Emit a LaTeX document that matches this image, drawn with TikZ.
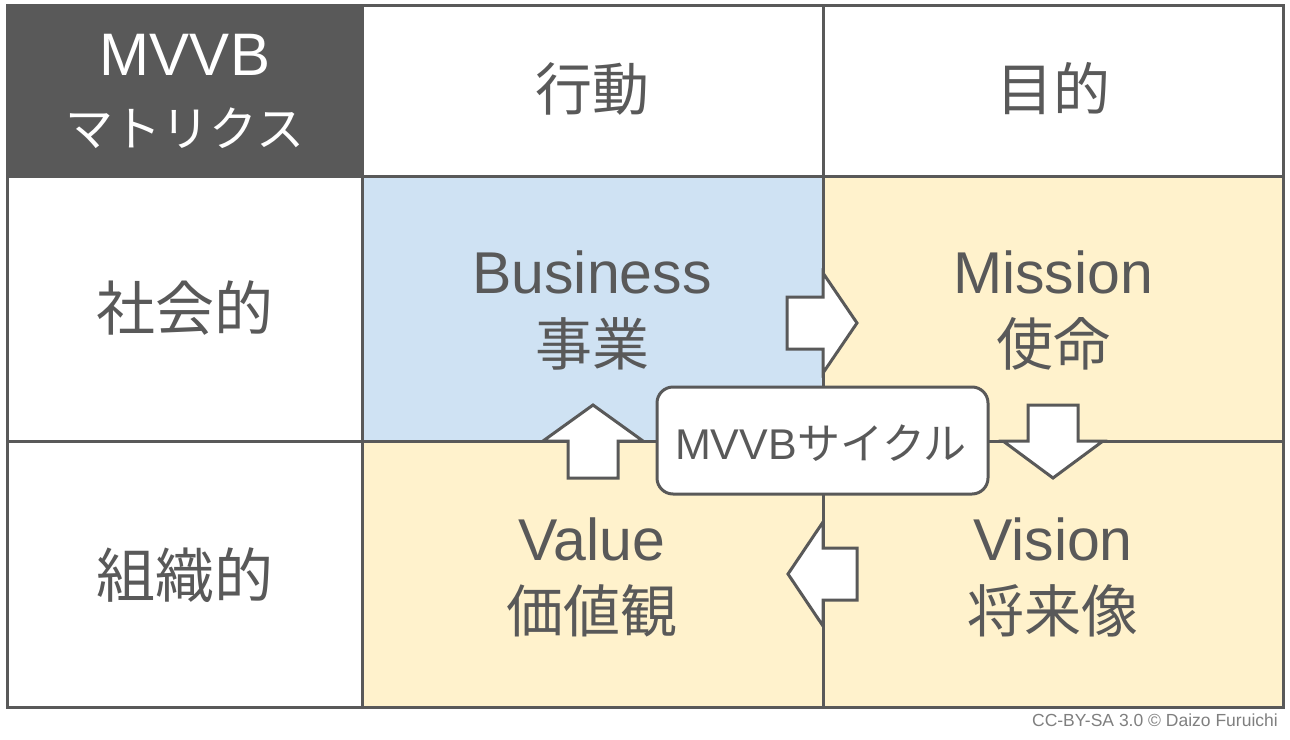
\documentclass[tikz,border=0pt]{standalone}
\usepackage{fontspec}
\setmainfont{Liberation Sans}
\newfontfamily\jp{Noto Sans CJK JP}
\definecolor{lineg}{HTML}{595959}
\definecolor{darkc}{HTML}{595959}
\definecolor{bluec}{HTML}{CFE2F3}
\definecolor{yelc}{HTML}{FFF2CC}
\definecolor{credc}{HTML}{7F7F7F}
\begin{document}
\begin{tikzpicture}[x=1pt,y=-1pt,
  cell/.style={draw=lineg,line width=3pt},
  lat/.style={text=lineg,font=\fontsize{59}{60}\selectfont,inner sep=0pt,anchor=base},
  jpt/.style={text=lineg,font=\jp\fontsize{57}{60}\selectfont,inner sep=0pt},
  blockarrow/.style={draw=lineg,fill=white,line width=3pt,line join=miter},
  cyclebox/.style={draw=lineg,fill=white,line width=3pt,rounded corners=16pt}]
\useasboundingbox (0,0) rectangle (1290,739);
% cells
\path[cell,fill=darkc] (7,5) rectangle (362,176);
\path[cell,fill=white] (362,5) rectangle (823,176);
\path[cell,fill=white] (823,5) rectangle (1283,176);
\path[cell,fill=white] (7,176) rectangle (362,441);
\path[cell,fill=bluec] (362,176) rectangle (823,441);
\path[cell,fill=yelc] (823,176) rectangle (1283,441);
\path[cell,fill=white] (7,441) rectangle (362,707);
\path[cell,fill=yelc] (362,441) rectangle (823,707);
\path[cell,fill=yelc] (823,441) rectangle (1283,707);
% header texts
\node[lat,text=white,font=\fontsize{60}{60}\selectfont] (mvvb) at (185,75) {MVVB};
\node[jpt,text=white,font=\jp\fontsize{48}{50}\selectfont] (matrix) at (185,128) {マトリクス};
\node[jpt] (kodo) at (592,89) {行動};
\node[jpt] (mokuteki) at (1053,89) {目的};
\node[jpt,font=\jp\fontsize{59}{60}\selectfont] (shakai) at (185,308) {社会的};
\node[jpt,font=\jp\fontsize{59}{60}\selectfont] (soshiki) at (185,575) {組織的};
% cell texts
\node[lat] (bus) at (592,293) {Business};
\node[jpt] (jigyo) at (592,344) {事業};
\node[lat] (mis) at (1053,293) {Mission};
\node[jpt] (shimei) at (1053,344) {使命};
\node[lat] (val) at (592,560) {Value};
\node[jpt] (kachi) at (592,611) {価値観};
\node[lat] (vis) at (1053,560) {Vision};
\node[jpt] (shorai) at (1053,611) {将来像};
% arrows
\path[blockarrow] (787,297) -- (823,297) -- (823,273) -- (857,323) -- (823,373) -- (823,349) -- (787,349) -- cycle;
\path[blockarrow] (1028,405) -- (1078,405) -- (1078,441) -- (1103,441) -- (1053,478) -- (1003,441) -- (1028,441) -- cycle;
\path[blockarrow] (568,478) -- (618,478) -- (618,441) -- (643,441) -- (593,405) -- (543,441) -- (568,441) -- cycle;
\path[blockarrow] (857,548) -- (857,600) -- (823,600) -- (823,626) -- (788,574) -- (823,522) -- (823,548) -- cycle;
% cycle box
\path[cyclebox] (657,387) rectangle (988,494);
\node[text=lineg,inner sep=0pt,font=\fontsize{43}{43}\selectfont] (cycle) at (821,443) {MVVB{\jp サイクル}};
% credit
\node[text=credc,inner sep=0pt,anchor=base east,font=\fontsize{17.5}{17.5}\selectfont] (credit) at (1278,726) {CC-BY-SA 3.0 © Daizo Furuichi};
\end{tikzpicture}
\end{document}
